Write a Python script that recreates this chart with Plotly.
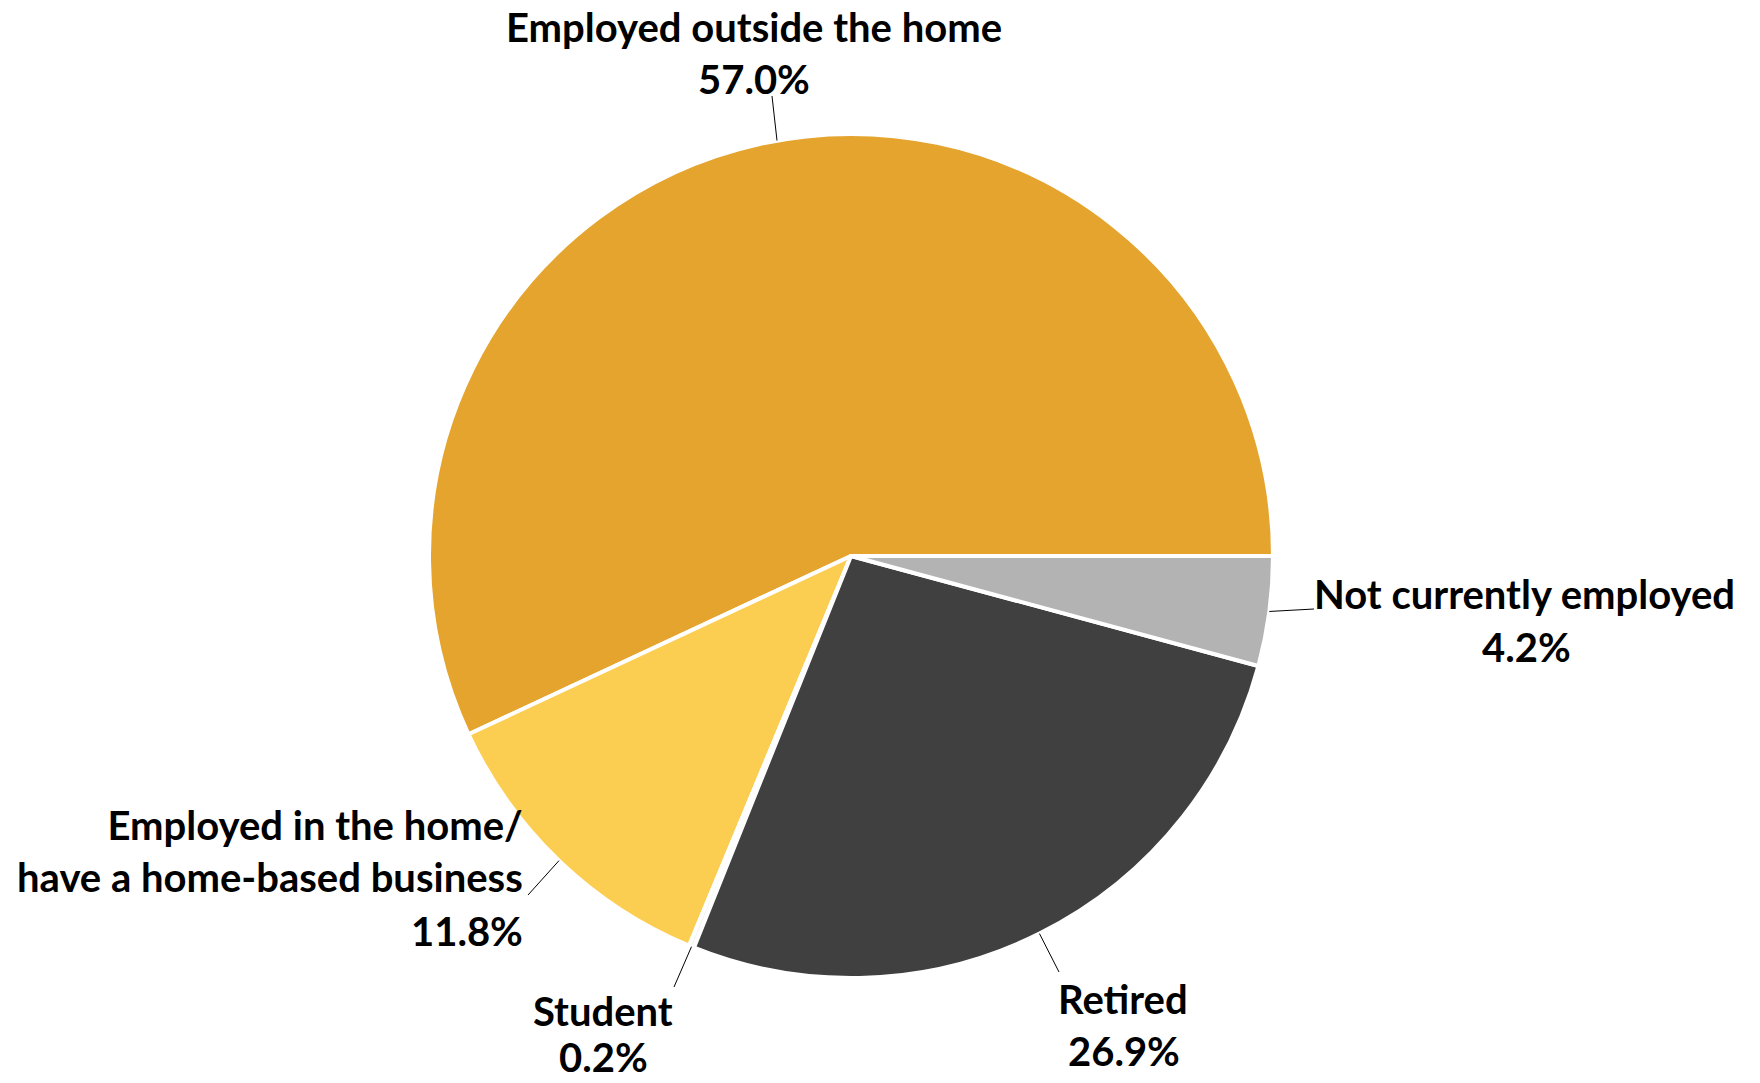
import math
import plotly.graph_objects as go

# ---- data ----
categories = [
    "Employed outside the home",
    "Employed in the home/<br>have a home-based business",
    "Student",
    "Retired",
    "Not currently employed",
]
values = [57.0, 11.8, 0.2, 26.9, 4.2]
colors = ["#E4A42E", "#FBCE52", "#F2F2F2", "#404040", "#B3B3B3"]

# ---- layout constants (pixels) ----
W, H = 1760, 1083
CX, CY, R = 851, 556, 422
FONT = "Lato"
FS = 40

# label placement: (name x, name y, value x, value y, xanchor, leader end x, leader end y, attach-angle tweak)
label_layout = [
    (754, 27, 754, 79, "center", 772, 96, -2.4),
    (524, 851, 524, 931, "right", 528, 895, 0.0),
    (603, 1011, 603, 1057, "center", 674, 987, 0.0),
    (1123, 999, 1124, 1051, "center", 1059, 972, 0.0),
    (1524, 594, 1526, 647, "center", 1314, 609, 0.0),
]


def px(x):
    return x / W


def py(y):
    return 1 - y / H


total = sum(values)
# first slice runs counterclockwise from 3 o'clock
rotation = 90 - values[0] / total * 360.0

fig = go.Figure(
    go.Pie(
        labels=[c.replace("<br>", " ") for c in categories],
        values=values,
        sort=False,
        direction="counterclockwise",
        rotation=rotation,
        marker=dict(colors=colors, line=dict(color="#FFFFFF", width=4)),
        textinfo="none",
        hoverinfo="label+percent",
        showlegend=False,
        domain=dict(x=[px(CX - R), px(CX + R)], y=[py(CY + R), py(CY - R)]),
    )
)

annotations = []
shapes = []
cum = 0.0
for cat, v, lay in zip(categories, values, label_layout):
    nx, ny, vx, vy, xa, lx, ly, tweak = lay
    mid = (cum + v / 2) / total * 360.0 + tweak
    cum += v
    ex = CX + R * math.cos(math.radians(mid))
    ey = CY - R * math.sin(math.radians(mid))
    font = dict(family=FONT, size=FS, color="#000000", weight="bold")
    nlines = cat.count("<br>") + 1
    annotations.append(dict(
        text=f"<b>{cat}</b>", x=px(nx), y=py(ny), xref="paper", yref="paper",
        xanchor=xa, yanchor="middle", align=xa, valign="middle",
        height=44 + 50 * (nlines - 1), borderpad=0,
        showarrow=False, font=font,
    ))
    annotations.append(dict(
        text=f"<b>{v:.1f}%</b>", x=px(vx), y=py(vy), xref="paper", yref="paper",
        xanchor=xa, yanchor="middle", showarrow=False, font=font,
        height=36, valign="middle", borderpad=0,
    ))
    shapes.append(dict(
        type="line", xref="paper", yref="paper",
        x0=px(ex), y0=py(ey), x1=px(lx), y1=py(ly),
        line=dict(color="#000000", width=1),
    ))

fig.update_layout(
    width=W, height=H,
    margin=dict(l=0, r=0, t=0, b=0),
    paper_bgcolor="#FFFFFF",
    plot_bgcolor="#FFFFFF",
    annotations=annotations,
    shapes=shapes,
)

fig.write_html(
    "out.html",
    config={"displayModeBar": False},
    post_script="document.body.style.margin='0';document.body.style.overflow='hidden';",
)
